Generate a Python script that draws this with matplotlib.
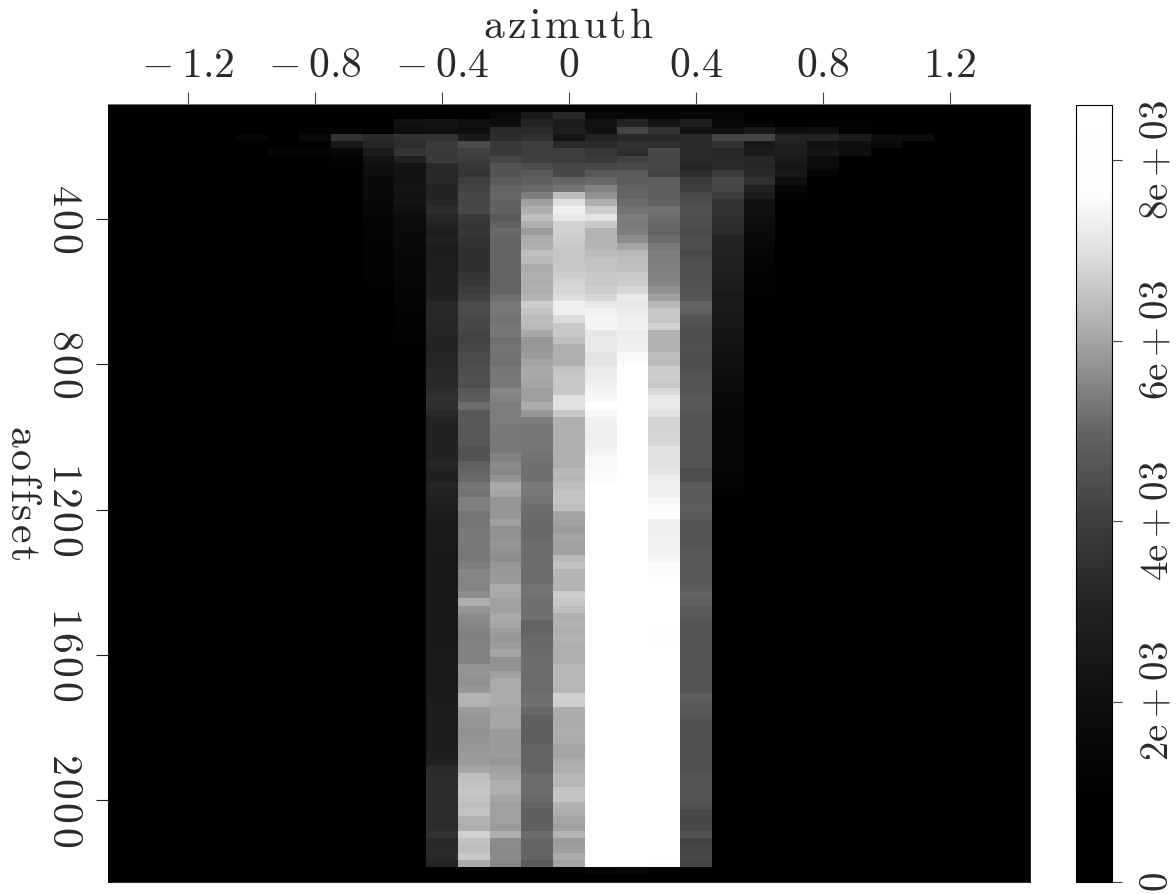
import numpy as np
import matplotlib
matplotlib.use("Agg")
import matplotlib.pyplot as plt
from matplotlib.colors import LinearSegmentedColormap, Normalize

plt.rcParams['mathtext.fontset'] = 'cm'
plt.rcParams['font.family'] = ['cmr10', 'DejaVu Serif']
plt.rcParams['axes.unicode_minus'] = False
plt.rcParams['text.color'] = '#2a2a2a'
plt.rcParams['xtick.labelcolor'] = '#2a2a2a'
plt.rcParams['ytick.labelcolor'] = '#2a2a2a'

# grey scale of the colorbar, read at the tick marks
scale_value = [0, 1000, 2000, 3000, 4000, 5000, 6000, 7000, 7600, 8000, 8610]
scale_grey = [0, 1, 15, 34, 62, 100, 165, 225, 252, 254, 255]
vmax = 8610

azimuth = [-1.0, -0.9, -0.8, -0.7, -0.6, -0.5, -0.4, -0.3, -0.2, -0.1, 0.0,
           0.1, 0.2, 0.3, 0.4, 0.5, 0.6, 0.7, 0.8, 0.9, 1.0, 1.1]
n_rows = 105
first_offset = 115
offset_step = 20

# brightness of each trace, top row first
col_m10 = [0, 0, 0, 6]
col_m09 = [0, 0, 0, 0, 0, 5]
col_m08 = [0, 0, 3, 10, 0, 5, 2]
col_m07 = [0, 0, 4, 50, 24, 8, 3, 1]
col_m06 = [0, 0, 0, 42, 38, 28, 18, 14, 14, 10, 10, 10, 8, 8, 6, 5, 4, 4, 3, 3,
           2, 2, 2, 2, 1, 1, 1, 1]
col_m05 = [0, 18, 12, 50, 44, 52, 32, 20, 20, 20, 22, 20, 20, 16, 12, 12, 10, 10,
           10, 8, 8, 8, 8, 6, 6, 5, 4, 4, 3, 3, 2, 2, 1, 1, 1, 1]
col_m04 = [0, 20, 15, 50, 60, 58, 58, 40, 40, 40,
           36, 36, 38, 45, 38, 35, 30, 33, 28, 30,
           30, 30, 32, 32, 32, 32, 40, 40, 40, 38,
           38, 36, 36, 38, 38, 40, 40, 40, 44, 48,
           46, 40, 34, 34, 34, 34, 34, 34, 38, 32,
           30, 36, 34, 32, 30, 28, 26, 26, 26, 26,
           24, 24, 24, 24, 24, 24, 24, 24, 24, 24,
           24, 24, 24, 24, 26, 26, 26, 26, 26, 26,
           26, 28, 28, 28, 28, 28, 28, 28, 30, 32,
           42, 44, 44, 44, 44, 44, 44, 44, 44, 50,
           40, 42, 42, 36, 0]
col_m03 = [0, 16, 15, 25, 75, 65, 60, 55, 52, 62,
           66, 72, 70, 72, 58, 52, 54, 50, 48, 48,
           48, 48, 52, 55, 60, 65, 75, 75, 72, 72,
           68, 68, 70, 75, 75, 78, 80, 80, 88, 92,
           108, 88, 88, 88, 88, 88, 82, 82, 95, 100,
           105, 118, 115, 128, 128, 118, 118, 120, 120, 120,
           120, 120, 125, 135, 132, 132, 140, 175, 150, 140,
           135, 130, 128, 130, 130, 130, 148, 148, 145, 150,
           180, 178, 155, 150, 148, 145, 148, 150, 155, 155,
           165, 190, 195, 198, 195, 190, 195, 178, 175, 210,
           195, 190, 200, 170, 0]
col_m02 = [8, 14, 42, 44, 56, 56, 70, 82, 82, 90,
           98, 102, 98, 98, 90, 98, 105, 100, 100, 100,
           100, 100, 100, 98, 100, 110, 120, 120, 115, 118,
           120, 110, 115, 115, 112, 118, 120, 120, 135, 130,
           125, 125, 125, 122, 120, 120, 120, 130, 140, 135,
           148, 170, 165, 150, 150, 150, 160, 145, 145, 148,
           145, 140, 150, 152, 155, 170, 168, 160, 160, 170,
           165, 155, 150, 155, 165, 145, 145, 160, 170, 170,
           170, 170, 165, 165, 165, 155, 155, 155, 155, 150,
           160, 165, 175, 175, 165, 160, 160, 160, 155, 175,
           140, 138, 138, 135, 0]
col_m01 = [25, 35, 42, 50, 62, 60, 62, 76, 90, 95,
           105, 125, 160, 175, 190, 175, 155, 172, 175, 190,
           185, 170, 175, 172, 175, 180, 205, 195, 188, 185,
           170, 150, 152, 155, 165, 170, 168, 165, 158, 158,
           172, 150, 125, 118, 118, 118, 118, 115, 112, 112,
           112, 122, 120, 115, 110, 108, 105, 105, 105, 108,
           108, 108, 108, 108, 108, 115, 115, 112, 112, 112,
           100, 100, 105, 105, 108, 108, 108, 108, 108, 108,
           112, 112, 105, 95, 95, 95, 95, 100, 100, 100,
           100, 108, 108, 108, 105, 100, 95, 95, 95, 108,
           100, 100, 100, 92, 0]
col_000 = [40, 28, 30, 20, 42, 62, 62, 70, 72, 100,
           115, 190, 225, 240, 232, 210, 208, 205, 200, 198,
           198, 200, 205, 212, 215, 222, 240, 240, 220, 200,
           200, 190, 175, 175, 175, 195, 200, 200, 200, 225,
           225, 200, 175, 175, 175, 175, 175, 175, 175, 185,
           182, 190, 195, 195, 190, 165, 160, 155, 165, 160,
           160, 185, 195, 180, 180, 180, 205, 200, 190, 175,
           178, 175, 178, 175, 175, 175, 182, 182, 182, 182,
           210, 205, 172, 170, 172, 172, 170, 165, 165, 172,
           175, 182, 182, 195, 195, 178, 172, 165, 160, 180,
           155, 160, 172, 165, 0]
col_p01 = [8, 18, 18, 35, 42, 54, 58, 72, 88, 105,
           130, 145, 175, 205, 228, 200, 178, 180, 180, 188,
           195, 195, 200, 200, 205, 215, 232, 240, 245, 245,
           230, 232, 232, 228, 228, 235, 235, 240, 245, 248,
           255, 248, 242, 240, 238, 240, 242, 248, 248, 250,
           252] + [255] * 53 + [6]
col_p02 = [6, 35, 68, 40, 48, 45, 65, 75, 90, 92,
           98, 100, 108, 115, 125, 122, 125, 140, 165, 185,
           190, 192, 200, 205, 215, 235, 232, 235, 238, 240,
           235, 238, 240, 248, 252] + [255] * 69 + [8]
col_p03 = [6, 20, 50, 40, 48, 72, 72, 72, 68, 92,
           95, 95, 98, 112, 108, 102, 100, 108, 120, 125,
           125, 128, 130, 132, 145, 160, 185, 200, 198, 210,
           178, 178, 178, 190, 188, 205, 205, 200, 218, 232,
           232, 225, 212, 212, 212, 215, 225, 225, 225, 230,
           238, 240, 240, 248, 250, 252, 238, 240, 240, 242,
           242, 245, 250, 252] + [255] * 7 + [253, 254] + [255] * 30 + [254, 3]
col_p04 = [6, 30, 18, 42, 42, 42, 42, 36, 45, 58,
           62, 72, 78, 82, 80, 78, 75, 78, 78, 72,
           78, 80, 80, 84, 84, 85, 100, 95, 85, 80,
           78, 78, 80, 78, 78, 80, 85, 85, 85, 90,
           88, 85, 85, 85, 85, 85, 85, 85, 85, 78,
           78, 90, 90, 90, 95, 90, 85, 85, 85, 85,
           88, 88, 88, 88, 88, 92, 98, 95, 90, 88,
           85, 85, 85, 85, 85, 85, 85, 85, 85, 85,
           95, 90, 88, 82, 80, 80, 80, 80, 80, 80,
           80, 85, 85, 85, 85, 82, 72, 72, 72, 82,
           68, 72, 72, 68, 0]
col_p05 = [6, 10, 14, 68, 48, 40, 42, 42, 60, 72, 72, 60, 50, 50, 48, 46, 44, 36,
           36, 36, 34, 34, 32, 30, 28, 25, 25, 25, 24, 24, 22, 20, 18, 16, 16, 14,
           12, 12, 10, 10, 8, 8, 8, 8, 8, 6, 6, 6, 6, 6, 4, 4, 3]
col_p06 = [0, 5, 24, 70, 24, 28, 40, 38, 40, 48, 32, 28, 18, 16, 14, 12, 10, 10,
           8, 6, 5, 4, 3, 3, 2, 1, 1, 1, 1, 1]
col_p07 = [0, 0, 14, 36, 32, 30, 26, 20, 24, 14, 6, 3]
col_p08 = [0, 4, 16, 36, 16, 22, 12, 10, 5]
col_p09 = [0, 3, 0, 26, 14, 14]
col_p10 = [0, 0, 0, 14, 10]
col_p11 = [0, 0, 0, 12]

columns = [col_m10, col_m09, col_m08, col_m07, col_m06, col_m05, col_m04, col_m03,
           col_m02, col_m01, col_000, col_p01, col_p02, col_p03, col_p04, col_p05,
           col_p06, col_p07, col_p08, col_p09, col_p10, col_p11]

x_ticks = [-1.2, -0.8, -0.4, 0, 0.4, 0.8, 1.2]
x_labels = [r'$-\hspace{0.22}1.2$', r'$-\hspace{0.22}0.8$', r'$-\hspace{0.22}0.4$',
            r'$0$', r'$0.4$', r'$0.8$', r'$1.2$']
y_ticks = [400, 800, 1200, 1600, 2000]
y_labels = ['400', '800', '1200', '1600', '2000']
cb_ticks = [0, 2000, 4000, 6000, 8000]
cb_labels = [r'$0$', r'$2\mathrm{e}+03$', r'$4\mathrm{e}+03$', r'$6\mathrm{e}+03$', r'$8\mathrm{e}+03$']

W, H = 1176, 894


def pixel_box(x0, y0, x1, y1):
    return [x0 / W, 1 - y1 / H, (x1 - x0) / W, (y1 - y0) / H]


def spaced(text, gap):
    # the reference type is set wider than cmr10, so open up the letters
    parts = [r'\mathrm{%s}' % c if c.isalpha() else c for c in text]
    return '$' + (r'\hspace{%g}' % gap).join(parts) + '$'


grey = np.zeros((n_rows, len(columns)))
for i, c in enumerate(columns):
    grey[:len(c), i] = c
amp = np.interp(grey, scale_grey, scale_value)

stops = [(v / vmax, str(g / 255)) for v, g in zip(scale_value, scale_grey)]
cmap = LinearSegmentedColormap.from_list('sep_grey', stops, N=1024)
norm = Normalize(0, vmax)

fig = plt.figure(figsize=(W / 100, H / 100), dpi=100)
ax = fig.add_axes(pixel_box(108, 104, 1030, 882))
ax.set_facecolor('black')

x_edges = np.append(np.array(azimuth) - 0.05, azimuth[-1] + 0.05)
y_edges = first_offset - offset_step / 2 + offset_step * np.arange(n_rows + 1)
mesh = ax.pcolormesh(x_edges, y_edges, amp, cmap=cmap, norm=norm, shading='flat')

ax.set_xlim(-1.452, 1.452)
ax.set_ylim(2226, 83)
ax.xaxis.tick_top()
ax.set_xticks(x_ticks)
ax.set_xticklabels(x_labels, fontsize=30)
ax.set_yticks(y_ticks)
ax.set_yticklabels([spaced(t, 0.1) for t in y_labels], fontsize=30, rotation=-90, va='center')
ax.tick_params(axis='x', length=8.6, width=0.8, pad=5, color='#444444')
ax.tick_params(axis='y', length=8.6, width=0.8, pad=10, color='#222222')
for s in ax.spines.values():
    s.set_linewidth(0.6)
ax.spines['top'].set_color('#888888')

fig.text(569 / W, 1 - 27 / H, spaced('azimuth', 0.1), fontsize=30, ha='center', va='center')
fig.text(22 / W, 1 - 493 / H, spaced('aoffset', 0.08), fontsize=30, rotation=-90, ha='center', va='center')

cax = fig.add_axes(pixel_box(1076, 105, 1112, 882))
cb = fig.colorbar(mesh, cax=cax, ticks=cb_ticks)
cb.ax.set_yticklabels(cb_labels, fontsize=28, rotation=90, va='center')
cb.ax.tick_params(length=7.5, width=0.8, pad=13, color='#444444')
cb.outline.set_linewidth(0.8)

fig.savefig('out.png', dpi=100)
